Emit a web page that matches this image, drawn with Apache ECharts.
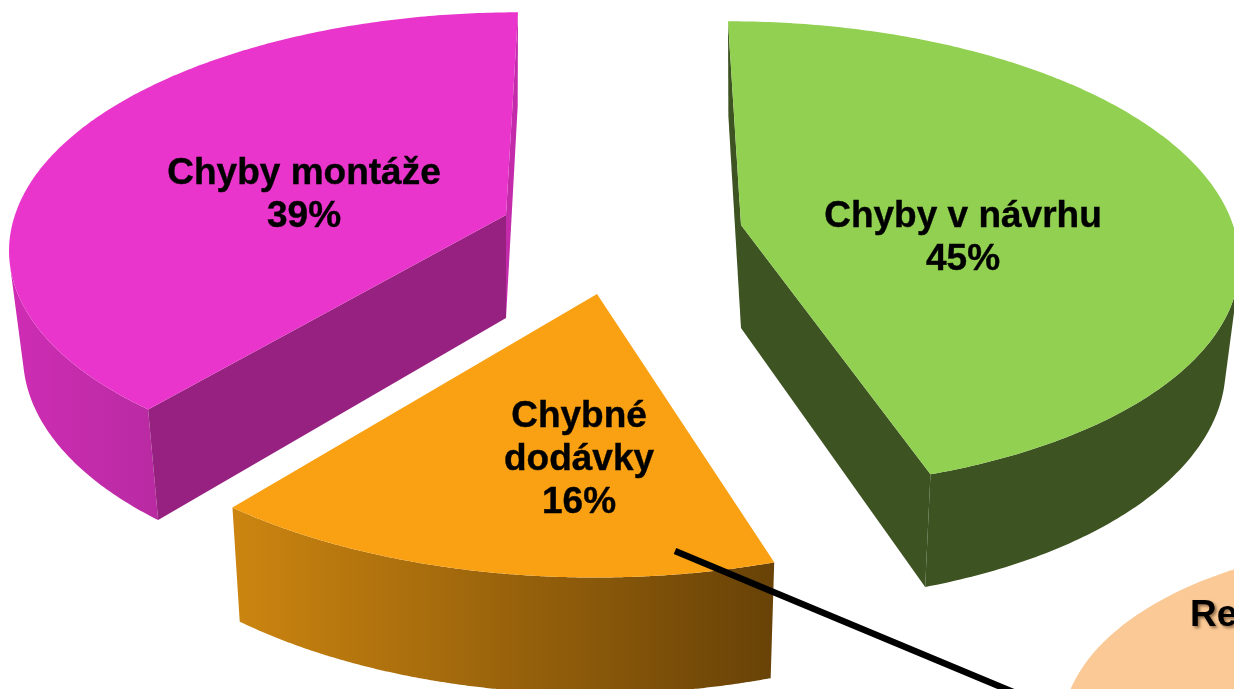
<!DOCTYPE html>
<html>
<head>
<meta charset="utf-8">
<style>html,body{margin:0;padding:0;background:#fff;overflow:hidden}#c{width:1234px;height:689px}</style>
<script src="https://cdn.jsdelivr.net/npm/echarts@6/dist/echarts.min.js"></script>
</head>
<body>
<div id="c"></div>
<script>
// ---- data (clockwise from the top) ----
const categories = ['Chyby v návrhu', 'Chybné\ndodávky', 'Chyby montáže'];
const values = [45, 16, 39];
const secondPieLabel = 'Re';

// ---- layout and style (projection of each exploded slice) ----
const startAngle = 0;
const FONT = 'bold 37px "Liberation Sans", Arial, sans-serif';
const sliceLayout = [
  { cx: 741, cy: 225, r: 492, a: 230, p: 0.129, sb: -13, sf: 17, d0: 103, q: 0.09, k: 0.028,
    top: '#91D050', labelX: 963, labelY: 238, backEdge: 'from', cuts: true,
    cutBack: '#3D5322', cutFront: '#3D5322',
    wall: ['#3D5322', '#3D5322'], wallX: [900, 1234] },
  { cx: 597, cy: 294, r: 530, a: 258, p: 0.09, sb: 0, sf: -2, d0: 107, q: 0.08, k: 0.02,
    top: '#F9A113', labelX: 579, labelY: 460, backEdge: 'from', cuts: false,
    cutBack: '#C98310', cutFront: '#C98310',
    wall: ['#CC8510', '#684207'], wallX: [232, 773] },
  { cx: 506, cy: 215, r: 491, a: 228, p: 0.125, sb: 12, sf: -15, d0: 103, q: 0.09, k: 0.028,
    top: '#E935CB', labelX: 304, labelY: 195, backEdge: 'to', cuts: true,
    cutBack: '#C32BAA', cutFront: '#962180',
    wall: ['#CE2DB4', '#B92AA2'], wallX: [10, 157] }
];
const secondPie = { cx: 1420, cy: 730, r: 358, a: 188, fill: '#FAC996', labelX: 1190, labelY: 616 };
const leader = { x1: 675, y1: 551, slope: 0.417, len: 400, width: 6.5 };

function project(s, theta) {
  const u = Math.sin(theta), v = -Math.cos(theta);
  const den = 1 - s.p * v;
  return [
    s.cx + s.r * u / den + (v < 0 ? s.sb : s.sf) * Math.abs(v),
    s.cy + s.a * v / den
  ];
}
function lower(s, pt, v) {
  return [pt[0] - s.k * (pt[0] - s.cx), pt[1] + s.d0 / (1 - s.q * v)];
}
function lowerAt(s, theta) { return lower(s, project(s, theta), -Math.cos(theta)); }

const total = values.reduce((a, b) => a + b, 0);
function angleRange(idx) {
  let before = 0;
  for (let i = 0; i < idx; i++) before += values[i];
  const from = (startAngle + before / total * 360) * Math.PI / 180;
  const to = from + values[idx] / total * 2 * Math.PI;
  return [from, to];
}
const poly = (points, fill) => ({ type: 'polygon', shape: { points }, style: { fill, stroke: null } });

function renderSlice(params, api) {
  const i = params.dataIndex;
  const s = sliceLayout[i];
  const value = api.value(0);
  const [from, to] = angleRange(i);
  const N = 240, arcTop = [], arcLow = [];
  for (let n = 0; n <= N; n++) {
    const t = from + (to - from) * n / N;
    arcTop.push(project(s, t));
    arcLow.push(lowerAt(s, t));
  }
  const apex = [s.cx, s.cy], apexLow = lower(s, apex, 0);
  const cutFrom = [apex, arcTop[0], arcLow[0], apexLow];
  const cutTo = [apex, arcTop[N], arcLow[N], apexLow];
  const backCut = s.backEdge === 'from' ? cutFrom : cutTo;
  const frontCut = s.backEdge === 'from' ? cutTo : cutFrom;
  const wallFill = {
    type: 'linear', global: true, x: s.wallX[0], y: 0, x2: s.wallX[1], y2: 0,
    colorStops: [{ offset: 0, color: s.wall[0] }, { offset: 1, color: s.wall[1] }]
  };
  // keep only the part of the curved wall that faces the viewer
  const visTop = [], visLow = [];
  for (let n = 0; n < N; n++) {
    const tx = arcTop[n + 1][0] - arcTop[n][0], ty = arcTop[n + 1][1] - arcTop[n][1];
    const dx = arcLow[n][0] - arcTop[n][0], dy = arcLow[n][1] - arcTop[n][1];
    if (tx * dy - ty * dx < 0) {
      visTop.push(arcTop[n], arcTop[n + 1]);
      visLow.push(arcLow[n], arcLow[n + 1]);
    }
  }
  const children = [];
  if (s.cuts) children.push(poly(backCut, s.cutBack));
  children.push(poly(visTop.concat(visLow.slice().reverse()), wallFill));
  if (s.cuts) children.push(poly(frontCut, s.cutFront));
  children.push(poly([apex].concat(arcTop), s.top));
  children.push({
    type: 'text', z2: 10,
    style: {
      text: categories[i] + '\n' + value + '%',
      x: s.labelX, y: s.labelY, textAlign: 'center', textVerticalAlign: 'middle',
      font: FONT, lineHeight: 43, fill: '#000', stroke: '#000', lineWidth: 0.4
    }
  });
  return { type: 'group', children };
}

function renderSecondPie() {
  const pts = [];
  for (let n = 0; n < 180; n++) {
    const t = n / 180 * 2 * Math.PI;
    pts.push([secondPie.cx + secondPie.r * Math.cos(t), secondPie.cy + secondPie.a * Math.sin(t)]);
  }
  return {
    type: 'group',
    children: [
      poly(pts, secondPie.fill),
      {
        type: 'text',
        style: {
          text: secondPieLabel, x: secondPie.labelX, y: secondPie.labelY,
          textAlign: 'left', textVerticalAlign: 'middle', font: FONT, fill: '#000',
          textShadowColor: 'rgba(90,60,30,0.65)', textShadowBlur: 3, textShadowOffsetX: 2, textShadowOffsetY: 2
        }
      }
    ]
  };
}

function renderLeader() {
  return {
    type: 'line',
    shape: { x1: leader.x1, y1: leader.y1, x2: leader.x1 + leader.len, y2: leader.y1 + leader.len * leader.slope },
    style: { stroke: '#000', lineWidth: leader.width }
  };
}

const chart = echarts.init(document.getElementById('c'), null, { renderer: 'canvas' });
chart.setOption({
  animation: false,
  backgroundColor: '#fff',
  tooltip: { show: false },
  series: [
    { type: 'custom', coordinateSystem: 'none', z: 1, silent: true, renderItem: renderSecondPie, data: [[1]] },
    {
      type: 'custom', coordinateSystem: 'none', z: 2, silent: true, renderItem: renderSlice,
      data: categories.map((c, i) => ({ name: c, value: [values[i]] }))
    },
    { type: 'custom', coordinateSystem: 'none', z: 3, silent: true, renderItem: renderLeader, data: [[1]] }
  ]
});
</script>
</body>
</html>
